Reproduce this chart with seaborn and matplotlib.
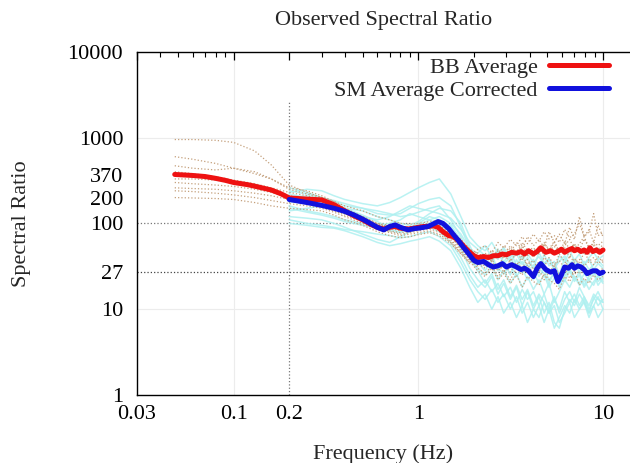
import numpy as np
import pandas as pd
import matplotlib
matplotlib.use("Agg")
import matplotlib.pyplot as plt
import matplotlib.ticker as mticker
import seaborn as sns

# frequency grids (Hz)
low_freq = [0.048, 0.06, 0.07, 0.08, 0.09, 0.1, 0.12, 0.14, 0.16, 0.18]
sm_freq = [0.2, 0.25, 0.3, 0.35, 0.4, 0.45, 0.5, 0.55, 0.6, 0.65, 0.7, 0.75, 0.8,
           0.88, 0.95, 1.0, 1.07, 1.13, 1.2, 1.28, 1.36, 1.46, 1.55, 1.65, 1.75, 1.86,
           2.0, 2.1, 2.26, 2.4, 2.55, 2.7, 2.85, 3.0, 3.2, 3.4, 3.6, 3.76, 3.95, 4.2,
           4.4, 4.6, 4.9, 5.2, 5.45, 5.7, 5.95, 6.2, 6.5, 6.8, 7.0, 7.3, 7.6, 7.9,
           8.2, 8.5, 8.8, 9.2, 9.6, 10.0]

# averages
bb_avg_low = [372, 362, 352, 335, 318, 300, 282, 262, 245, 222]
bb_avg = [198, 192, 188, 165, 140, 122, 110, 98, 90, 86, 90, 92, 88,
          86, 88, 90, 92, 92, 94, 90, 80, 72, 70, 63, 55, 48,
          42, 40, 41, 40, 42, 42, 44, 43, 46, 45, 47, 44, 48, 44,
          47, 52, 46, 48, 45, 47, 50, 46, 49, 51, 48, 50, 47, 49,
          46, 52, 47, 49, 46, 49]
sm_avg = [190, 175, 162, 150, 138, 125, 112, 100, 90, 84, 92, 96, 90,
          84, 87, 88, 90, 92, 98, 105, 100, 87, 74, 63, 53, 45,
          37, 35, 36, 33, 31, 32, 34, 31, 33, 31, 29, 30, 28, 24,
          30, 34, 29, 27, 28, 21, 25, 31, 30, 33, 30, 32, 31, 29,
          26, 27, 28, 28, 26, 27]

# individual station traces
ind_low_freq = [0.048, 0.06, 0.08, 0.1, 0.13, 0.16]
ind_freq = [0.2, 0.25, 0.3, 0.35, 0.4, 0.5, 0.6, 0.7, 0.8, 0.9, 1.0, 1.15, 1.3, 1.5, 1.7, 1.9,
            2.1, 2.3, 2.5, 2.7, 2.9, 3.15, 3.4, 3.65, 3.9, 4.2, 4.5, 4.8, 5.1, 5.45, 5.8,
            6.2, 6.6, 7.0, 7.45, 7.9, 8.4, 8.9, 9.4, 10.0]

sm_traces = [
    [230, 250, 240, 210, 190, 170, 160, 175, 200, 230, 260, 300, 330, 220, 120, 70,
     55, 48, 60, 45, 52, 40, 47, 38, 44, 35, 41, 33, 39, 30, 36, 42, 34, 38, 31, 36, 29, 33, 37, 32],
    [200, 210, 190, 180, 160, 150, 140, 130, 120, 125, 135, 150, 160, 110, 70, 40,
     30, 25, 32, 22, 28, 20, 26, 18, 24, 17, 22, 15, 20, 12, 16, 22, 18, 24, 19, 22, 17, 21, 24, 20],
    [160, 140, 130, 120, 110, 100, 95, 100, 110, 130, 120, 110, 95, 80, 50, 30,
     22, 18, 24, 15, 20, 13, 18, 11, 16, 10, 14, 9, 12, 7, 6, 10, 13, 11, 15, 12, 9, 14, 11, 13],
    [120, 115, 110, 100, 90, 75, 65, 60, 70, 80, 85, 90, 80, 60, 40, 25,
     18, 22, 16, 20, 14, 18, 12, 17, 13, 16, 11, 15, 10, 14, 9, 13, 16, 12, 18, 14, 11, 15, 13, 12],
    [260, 230, 200, 170, 150, 125, 105, 90, 85, 90, 100, 120, 110, 90, 60, 45,
     42, 35, 45, 38, 50, 36, 44, 33, 40, 30, 46, 34, 39, 28, 42, 35, 48, 37, 44, 33, 40, 46, 38, 42],
    [180, 170, 165, 160, 150, 140, 120, 110, 100, 95, 105, 130, 150, 140, 100, 55,
     35, 28, 38, 30, 26, 33, 24, 30, 22, 27, 20, 25, 18, 23, 26, 21, 28, 24, 20, 26, 22, 19, 25, 21],
    [110, 100, 95, 90, 85, 80, 75, 72, 68, 70, 75, 80, 70, 55, 35, 22,
     16, 13, 17, 12, 15, 10, 14, 9, 12, 8, 11, 7, 10, 6, 8, 11, 9, 13, 10, 12, 8, 11, 14, 10],
    [240, 220, 200, 185, 170, 150, 130, 125, 130, 150, 170, 190, 200, 160, 90, 50,
     40, 32, 44, 28, 36, 25, 38, 27, 33, 22, 30, 26, 20, 28, 18, 25, 30, 22, 27, 19, 24, 28, 21, 25],
    [140, 150, 160, 150, 130, 110, 95, 85, 80, 85, 95, 110, 120, 100, 75, 50,
     45, 55, 40, 50, 35, 48, 32, 42, 30, 38, 28, 44, 32, 36, 25, 40, 30, 35, 27, 33, 38, 29, 34, 30],
    [100, 95, 90, 88, 82, 70, 60, 55, 58, 62, 65, 70, 62, 48, 30, 18,
     12, 15, 10, 14, 9, 12, 8, 11, 7, 10, 8, 12, 9, 11, 7, 9, 12, 8, 10, 13, 9, 11, 8, 10],
    [220, 200, 175, 155, 140, 120, 110, 120, 140, 160, 150, 140, 130, 115, 85, 60,
     50, 42, 38, 46, 34, 40, 30, 36, 27, 33, 24, 30, 22, 26, 20, 24, 28, 21, 25, 18, 22, 26, 19, 23],
    [150, 135, 125, 115, 105, 95, 88, 82, 78, 85, 92, 100, 105, 95, 65, 38,
     28, 20, 26, 17, 22, 14, 19, 13, 17, 11, 15, 12, 9, 13, 10, 16, 12, 15, 11, 14, 10, 13, 16, 12],
]

bb_traces = [
    [950, 950, 930, 880, 700, 480,
     280, 230, 200, 180, 160, 140, 120, 110, 100, 98, 100, 105, 110, 85, 65, 50,
     45, 40, 48, 42, 55, 46, 60, 50, 70, 55, 65, 52, 80, 60, 75, 58, 90, 65, 120, 70, 85, 60, 95, 70],
    [600, 560, 500, 440, 380, 330,
     260, 240, 210, 180, 150, 120, 100, 90, 88, 92, 95, 100, 95, 75, 55, 42,
     35, 32, 38, 30, 42, 36, 45, 38, 50, 40, 55, 42, 48, 60, 45, 52, 40, 58, 47, 50, 44, 55, 48, 46],
    [470, 440, 420, 440, 400, 330,
     250, 220, 200, 170, 145, 120, 100, 95, 90, 88, 92, 98, 90, 70, 52, 40,
     34, 30, 36, 28, 33, 27, 35, 30, 38, 29, 36, 31, 40, 33, 37, 30, 42, 35, 38, 32, 36, 40, 34, 38],
    [300, 290, 280, 270, 250, 230,
     200, 180, 170, 150, 130, 110, 90, 82, 78, 80, 84, 90, 85, 65, 48, 38,
     30, 26, 32, 24, 28, 22, 30, 25, 33, 26, 29, 22, 27, 32, 25, 30, 23, 28, 26, 31, 24, 29, 27, 30],
    [260, 255, 250, 240, 225, 210,
     190, 170, 155, 140, 125, 105, 88, 80, 75, 78, 82, 86, 80, 62, 46, 36,
     28, 24, 30, 22, 26, 20, 25, 18, 24, 21, 19, 26, 22, 20, 17, 24, 21, 28, 19, 23, 20, 25, 22, 24],
    [240, 235, 225, 215, 200, 185,
     170, 160, 150, 135, 120, 100, 85, 78, 72, 75, 78, 82, 75, 60, 45, 35,
     40, 45, 38, 50, 42, 55, 46, 60, 48, 52, 44, 58, 50, 62, 47, 55, 65, 50, 58, 70, 52, 60, 55, 62],
    [200, 198, 195, 190, 175, 160,
     150, 145, 140, 125, 110, 95, 80, 72, 68, 70, 74, 78, 72, 58, 44, 34,
     50, 55, 46, 60, 52, 65, 55, 70, 58, 75, 62, 80, 66, 72, 60, 85, 68, 75, 100, 70, 80, 130, 72, 78],
    [400, 380, 350, 320, 290, 250,
     210, 195, 180, 160, 140, 118, 98, 90, 85, 88, 92, 96, 88, 70, 52, 42,
     38, 44, 36, 48, 40, 52, 44, 56, 42, 50, 46, 60, 48, 54, 45, 62, 50, 57, 48, 66, 52, 58, 50, 56],
    [330, 330, 320, 300, 290, 260,
     230, 210, 190, 165, 140, 115, 95, 88, 82, 84, 88, 95, 90, 72, 50, 38,
     32, 36, 29, 34, 27, 38, 30, 42, 33, 37, 28, 40, 35, 31, 44, 36, 30, 39, 34, 46, 37, 33, 41, 35],
]

y_ticks = [1, 10, 27, 100, 200, 370, 1000, 10000]
x_ticks = [0.03, 0.1, 0.2, 1, 10]

# long-form tables
sm_df = pd.concat([pd.DataFrame({"freq": ind_freq, "ratio": t, "trace": i})
                   for i, t in enumerate(sm_traces)])
bb_df = pd.concat([pd.DataFrame({"freq": ind_low_freq + ind_freq, "ratio": t, "trace": i})
                   for i, t in enumerate(bb_traces)])
bb_avg_df = pd.DataFrame({"freq": low_freq + sm_freq, "ratio": bb_avg_low + bb_avg})
sm_avg_df = pd.DataFrame({"freq": sm_freq, "ratio": sm_avg})

sns.set_style("white")
plt.rcParams["font.family"] = ["Liberation Serif", "DejaVu Serif"]
fs = 16

fig = plt.figure(figsize=(6.3, 4.63), dpi=100)
ax = fig.add_axes([0.2175, 0.147, 0.7825, 0.741])
ax.set_xscale("log")
ax.set_yscale("log")

# light grid at the decades
for xv in [0.1, 1, 10]:
    ax.axvline(xv, color="#ececec", lw=0.8, zorder=0)
for yv in [10, 1000]:
    ax.axhline(yv, color="#ececec", lw=0.8, zorder=0)

sns.lineplot(data=sm_df, x="freq", y="ratio", units="trace", estimator=None,
             color="#aef0f0", lw=1.1, alpha=0.85, ax=ax, legend=False)
sns.lineplot(data=bb_df, x="freq", y="ratio", units="trace", estimator=None,
             color="#c4a07c", lw=0.9, ls=":", ax=ax, legend=False)

# reference lines
ax.axhline(100, color="#777777", lw=0.9, ls=":", zorder=1)
ax.axhline(27, color="#444444", lw=0.9, ls=":", zorder=1)
ax.plot([0.2, 0.2], [1, 2700], color="#777777", lw=0.9, ls=":", zorder=1)

sns.lineplot(data=bb_avg_df, x="freq", y="ratio", color="#ee1111", lw=3.6,
             label="BB Average", ax=ax)
sns.lineplot(data=sm_avg_df, x="freq", y="ratio", color="#1111dd", lw=3.6,
             label="SM Average Corrected", ax=ax)

ax.set_xlim(0.03, 14.0)
ax.set_ylim(1, 10000)
ax.set_xticks(x_ticks)
ax.set_xticklabels([str(v) for v in x_ticks])
ax.set_yticks(y_ticks)
ax.set_yticklabels([str(v) for v in y_ticks])
ax.xaxis.set_minor_locator(mticker.LogLocator(base=10, subs=np.arange(2, 10)))
ax.yaxis.set_minor_locator(mticker.LogLocator(base=10, subs=np.arange(2, 10)))
ax.xaxis.set_minor_formatter(mticker.NullFormatter())
ax.yaxis.set_minor_formatter(mticker.NullFormatter())
ax.tick_params(which="both", direction="in", top=True, right=False,
               labelsize=fs, colors="black")
ax.tick_params(axis="x", which="major", pad=7)
ax.tick_params(axis="y", which="major", pad=10)
ax.tick_params(which="major", length=6, width=0.9)
ax.tick_params(which="minor", length=3.5, width=0.8)

for side in ["left", "bottom", "top"]:
    ax.spines[side].set_color("black")
    ax.spines[side].set_linewidth(1.0)
ax.spines["right"].set_visible(False)

ax.set_xlabel("Frequency (Hz)", fontsize=fs, labelpad=15)
ax.set_ylabel("Spectral Ratio", fontsize=fs, labelpad=26)
ax.set_title("Observed Spectral Ratio", fontsize=fs, pad=19)

ax.legend(loc="upper right", bbox_to_anchor=(0.975, 1.01), markerfirst=False,
          frameon=False, fontsize=fs, handlelength=2.7, handletextpad=0.5,
          labelspacing=0.1, borderaxespad=0.0)

fig.savefig("out.png", dpi=100)
